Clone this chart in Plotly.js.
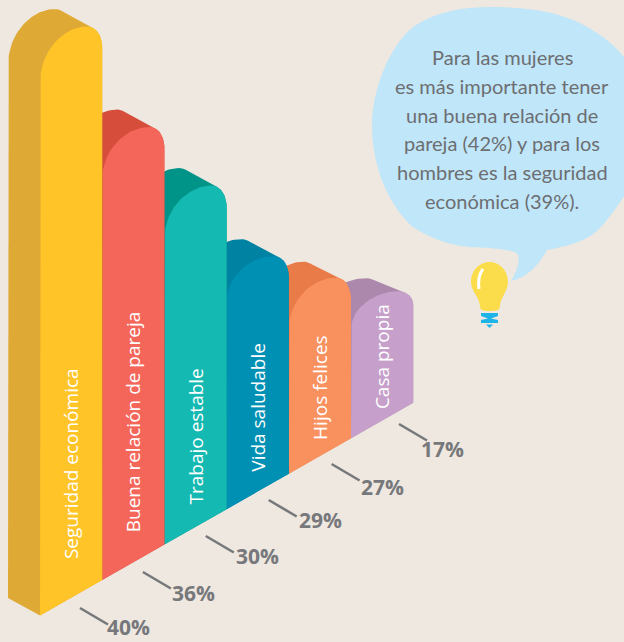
<!DOCTYPE html>
<html>
<head>
<meta charset="utf-8">
<script src="https://cdn.plot.ly/plotly-3.0.1.min.js"></script>
<style>html,body{margin:0;padding:0;background:#EEE8E0;overflow:hidden}</style>
</head>
<body>
<div id="chart" style="width:624px;height:642px"></div>
<script>
// Data
const categories = ["Seguridad económica", "Buena relación de pareja", "Trabajo estable", "Vida saludable", "Hijos felices", "Casa propia"];
const shares = [40, 36, 30, 29, 27, 17];
const drawnHeight = [532, 400, 305, 206, 144, 108];
const crown = [57, 53, 54, 47, 52, 39];
const shoulder = [21, 21, 22, 21, 22, 14];
const depthRise = [17.5, 17.5, 17.5, 17, 16, 13];
const frontColors = ["#FFC428", "#F5665A", "#14B9B1", "#0090B4", "#F9915F", "#C6A0CB"];
const sideColors = ["#DFA936", "#D64D3C", "#009488", "#0082A3", "#E87B48", "#AC88AC"];
const labelCenterY = [464, 422, 437, 407, 387, 357];
const shareLabelX = [128, 193.5, 257.5, 320, 382.5, 442];
const shareLabelY = [627, 593, 556, 520, 487, 449];
const noteLines = ["Para las mujeres", "es más importante tener", "una buena relación de", "pareja (42%) y para los", "hombres es la seguridad", "económica (39%)."];

// Oblique projection
const X0 = 40, BAR_W = 62.2, BASE_Y = 615.5, SLOPE = 0.57, DX = -32;
const baseAt = x => BASE_Y - SLOPE * (x - X0);

function cubic(p0, p1, p2, p3, from, to, n) {
  const pts = [];
  for (let k = 0; k <= n; k++) {
    const t = from + (to - from) * k / n, m = 1 - t;
    pts.push([
      m*m*m*p0[0] + 3*m*m*t*p1[0] + 3*m*t*t*p2[0] + t*t*t*p3[0],
      m*m*m*p0[1] + 3*m*m*t*p1[1] + 3*m*t*t*p2[1] + t*t*t*p3[1]
    ]);
  }
  return pts;
}

function barGeometry(i) {
  const xa = X0 + BAR_W * i, xb = xa + BAR_W;
  const ya = baseAt(xa), yb = baseAt(xb);
  const yL = ya - drawnHeight[i];
  const peak = [xa + 0.75 * BAR_W, yL - crown[i]];
  const yR = peak[1] + shoulder[i];
  const dome = [[xa, yL], [xa, yL - 0.6 * crown[i]], [xa + 0.4 * BAR_W, peak[1]], peak];
  const corner = [peak, [xa + 0.92 * BAR_W, peak[1]], [xb, peak[1] + 0.5 * shoulder[i]], [xb, yR]];
  return {xa, xb, ya, yb, dome, corner};
}

const traces = [];
function polygon(pts, color) {
  traces.push({
    type: "scatter", mode: "lines", fill: "toself", fillcolor: color,
    x: pts.map(p => p[0]), y: pts.map(p => p[1]),
    line: {width: 0, color: color}, hoverinfo: "skip", showlegend: false
  });
}

for (let i = categories.length - 1; i >= 0; i--) {
  const g = barGeometry(i);
  const DY = -depthRise[i];
  const shift = pts => pts.map(p => [p[0] + DX, p[1] + DY]);
  const frontDome = cubic(...g.dome, 0, 1, 30);
  const backCorner = cubic(...g.corner, 0, 0.22, 6);
  const frontCorner = cubic(...g.corner, 0.22, 1, 18);
  const frontCornerFull = cubic(...g.corner, 0, 1, 20);
  polygon([].concat(
    [[g.xa + DX, g.ya + DY]], shift(frontDome), shift(backCorner), frontCorner,
    [[g.xb, g.yb], [g.xa, g.ya], [g.xa + DX, g.ya + DY]]
  ), sideColors[i]);
  polygon([].concat(
    [[g.xa, g.ya]], frontDome, frontCornerFull, [[g.xb, g.yb], [g.xa, g.ya]]
  ), frontColors[i]);
}

// Tick strokes beside each bar
categories.forEach((c, i) => {
  const last = i === categories.length - 1;
  const sx = 80 + 62.9 * i + (last ? 4.5 : 0), sy = 608 - 36 * i - (last ? 4 : 0);
  traces.push({
    type: "scatter", mode: "lines",
    x: [sx, sx + 28], y: [sy, sy + 16.5],
    line: {width: 2.6, color: "#77787B"}, hoverinfo: "skip", showlegend: false
  });
});

const annotations = [];
categories.forEach((c, i) => {
  annotations.push({
    x: X0 + BAR_W * (i + 0.5), y: labelCenterY[i], xref: "x", yref: "y",
    text: c, textangle: -90, showarrow: false, xanchor: "center", yanchor: "middle",
    font: {family: "Open Sans, sans-serif", size: 19, color: "#FFFFFF"}
  });
  annotations.push({
    x: shareLabelX[i], y: shareLabelY[i], xref: "x", yref: "y",
    text: "<b>" + shares[i] + "%</b>", showarrow: false, xanchor: "center", yanchor: "middle",
    font: {family: "Open Sans, sans-serif", size: 21, color: "#77787B"}
  });
});
noteLines.forEach((line, i) => {
  annotations.push({
    x: 502, y: 57 + 28.8 * i, xref: "x", yref: "y", showarrow: false,
    xanchor: "center", yanchor: "middle", text: line,
    font: {family: "Lato", size: 20, color: "#6D6E71"}
  });
});

const shapes = [
  {type: "path", layer: "below", fillcolor: "#BFE6F9", line: {width: 0},
   path: "M413,27 C435,12 462,7 490,7 C520,7 560,10 587,27 C610,40 640,60 650,125 C650,160 630,190 607,220 C595,235 585,243 547,250 C540,262 530,277 511,281 C518,270 520,258 518,255 C515,249 490,248 470,247 C445,245 425,235 413,227 C395,212 372,175 372,125 C372,90 390,45 413,27 Z"},
  {type: "path", layer: "below", fillcolor: "#FBDD4C", line: {width: 0},
   path: "M489.5,262 C500,262 508,271 508,282 C508,291 501,296 500,306 C500,310 497,311 489.5,311 C482,311 480,310 480,306 C479,296 471,291 471,282 C471,271 479,262 489.5,262 Z"},
  {type: "path", layer: "below", fillcolor: "rgba(0,0,0,0)", line: {width: 3, color: "#FFFFFF"},
   path: "M483,269 C479,274 478,282 479,289"},
  {type: "path", layer: "below", fillcolor: "#1FB4E8", line: {width: 0},
   path: "M481,313 L498,313 L498,316 L491,318.5 L498,320 L498,323 L481,323 L481,320 L488,318.5 L481,316 Z"},
  {type: "path", layer: "below", fillcolor: "#1FB4E8", line: {width: 0},
   path: "M486,324.5 L493,324.5 L489.5,328 Z"}
];

Plotly.newPlot("chart", traces, {
  width: 624, height: 642,
  margin: {l: 0, r: 0, t: 0, b: 0},
  paper_bgcolor: "#EEE8E0", plot_bgcolor: "#EEE8E0",
  showlegend: false,
  xaxis: {range: [0, 624], visible: false, fixedrange: true},
  yaxis: {range: [642, 0], visible: false, fixedrange: true},
  shapes, annotations
}, {displayModeBar: false, staticPlot: true});
</script>
</body>
</html>
